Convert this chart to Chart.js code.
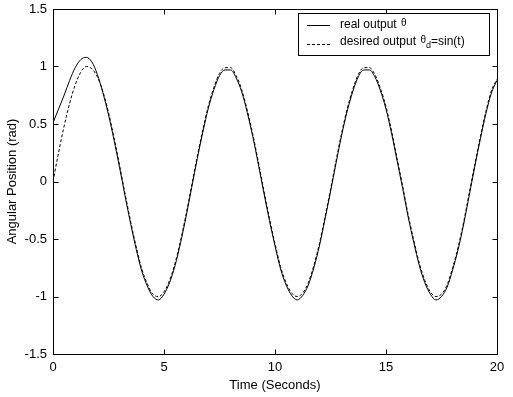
<!DOCTYPE html>
<html>
<head>
<meta charset="utf-8">
<script src="https://cdn.jsdelivr.net/npm/chart.js@4"></script>
<style>
  body { margin: 0; background: #fff; }
  canvas { display: block; }
</style>
</head>
<body>
<canvas id="chart" width="513" height="397"></canvas>
<script>
const times = [
  0, 0.25, 0.5, 0.75, 1, 1.25, 1.5, 1.75, 2, 2.25, 2.5, 2.75, 3, 3.25, 3.5, 3.75,
  4, 4.25, 4.5, 4.75, 5, 5.25, 5.5, 5.75, 6, 6.25, 6.5, 6.75, 7, 7.25, 7.5, 7.75,
  8, 8.25, 8.5, 8.75, 9, 9.25, 9.5, 9.75, 10, 10.25, 10.5, 10.75, 11, 11.25, 11.5, 11.75,
  12, 12.25, 12.5, 12.75, 13, 13.25, 13.5, 13.75, 14, 14.25, 14.5, 14.75, 15, 15.25, 15.5, 15.75,
  16, 16.25, 16.5, 16.75, 17, 17.25, 17.5, 17.75, 18, 18.25, 18.5, 18.75, 19, 19.25, 19.5, 19.75, 20
];

const realOutput = [
  0.51, 0.63, 0.75, 0.88, 0.99, 1.06, 1.08, 1.04, 0.93, 0.77, 0.58, 0.36, 0.12, -0.13, -0.37, -0.59,
  -0.78, -0.91, -1.00, -1.03, -0.98, -0.88, -0.73, -0.53, -0.30, -0.05, 0.20, 0.43, 0.64, 0.80, 0.92, 0.97,
  0.97, 0.90, 0.78, 0.60, 0.39, 0.15, -0.10, -0.34, -0.56, -0.76, -0.90, -0.99, -1.03, -0.99, -0.90, -0.75,
  -0.56, -0.33, -0.09, 0.16, 0.40, 0.61, 0.78, 0.91, 0.97, 0.97, 0.91, 0.79, 0.63, 0.42, 0.18, -0.06,
  -0.31, -0.53, -0.73, -0.88, -0.98, -1.03, -1.00, -0.92, -0.77, -0.59, -0.37, -0.12, 0.13, 0.37, 0.59, 0.77, 0.88
];

const desiredOutput = [
  0.00, 0.25, 0.48, 0.68, 0.84, 0.95, 1.00, 0.98, 0.91, 0.78, 0.60, 0.38, 0.14, -0.11, -0.35, -0.57,
  -0.76, -0.89, -0.98, -1.00, -0.96, -0.86, -0.71, -0.51, -0.28, -0.03, 0.22, 0.45, 0.66, 0.82, 0.94, 0.99,
  0.99, 0.92, 0.80, 0.62, 0.41, 0.17, -0.08, -0.32, -0.54, -0.74, -0.88, -0.97, -1.00, -0.97, -0.88, -0.73,
  -0.54, -0.31, -0.07, 0.18, 0.42, 0.63, 0.80, 0.93, 0.99, 0.99, 0.93, 0.81, 0.65, 0.44, 0.20, -0.04,
  -0.29, -0.51, -0.71, -0.86, -0.96, -1.00, -0.98, -0.90, -0.75, -0.57, -0.35, -0.10, 0.15, 0.39, 0.61, 0.79, 0.89
];

const xTicks = [0, 5, 10, 15, 20];
const yTicks = [-1.5, -1, -0.5, 0, 0.5, 1, 1.5];

const FONT = '"Liberation Sans", Arial, sans-serif';

function toPoints(values) {
  return times.map((t, i) => ({ x: t, y: values[i] }));
}

// --- Box, inward ticks and legend, MATLAB style ---
const matlabFrame = {
  id: 'matlabFrame',
  afterDatasetsDraw(chart) {
    const { ctx, chartArea: a, scales } = chart;
    const L = Math.round(a.left) + 0.5, R = Math.round(a.right) + 0.5;
    const T = Math.round(a.top) + 0.5, B = Math.round(a.bottom) + 0.5;
    ctx.save();
    ctx.strokeStyle = '#000';
    ctx.lineWidth = 1;
    ctx.setLineDash([]);
    ctx.strokeRect(L, T, R - L, B - T);

    const tl = 5;
    ctx.beginPath();
    xTicks.forEach(v => {
      const x = Math.round(scales.x.getPixelForValue(v)) + 0.5;
      ctx.moveTo(x, B); ctx.lineTo(x, B - tl);
      ctx.moveTo(x, T); ctx.lineTo(x, T + tl);
    });
    yTicks.forEach(v => {
      const y = Math.round(scales.y.getPixelForValue(v)) + 0.5;
      ctx.moveTo(L, y); ctx.lineTo(L + tl, y);
      ctx.moveTo(R, y); ctx.lineTo(R - tl, y);
    });
    ctx.stroke();

    // legend
    const bx = 298.5, by = 13.5, bw = 191, bh = 42;
    ctx.fillStyle = '#fff';
    ctx.fillRect(bx, by, bw, bh);
    ctx.strokeRect(bx, by, bw, bh);

    ctx.beginPath();
    ctx.moveTo(307, 25.5); ctx.lineTo(330, 25.5);
    ctx.stroke();
    ctx.setLineDash([3, 2]);
    ctx.beginPath();
    ctx.moveTo(307, 44.5); ctx.lineTo(330, 44.5);
    ctx.stroke();
    ctx.setLineDash([]);

    ctx.fillStyle = '#000';
    ctx.textBaseline = 'middle';
    ctx.textAlign = 'left';
    ctx.font = '12px ' + FONT;
    let tx = 340;
    ctx.fillText('real output ', tx, 25);
    tx += ctx.measureText('real output ').width;
    ctx.font = '10px ' + FONT;
    ctx.fillText('\u03b8', tx + 1, 23);

    tx = 340;
    ctx.font = '12px ' + FONT;
    ctx.fillText('desired output ', tx, 42);
    tx += ctx.measureText('desired output ').width + 1;
    ctx.font = '10px ' + FONT;
    ctx.fillText('\u03b8', tx, 40);
    tx += ctx.measureText('\u03b8').width;
    ctx.font = '9px ' + FONT;
    ctx.fillText('d', tx, 46);
    tx += ctx.measureText('d').width;
    ctx.font = '12px ' + FONT;
    ctx.fillText('=sin(t)', tx, 42);
    ctx.restore();
  }
};

const ctx = document.getElementById('chart').getContext('2d');
new Chart(ctx, {
  type: 'line',
  data: {
    datasets: [
      {
        label: 'real output',
        data: toPoints(realOutput),
        borderColor: '#000',
        borderWidth: 1,
        pointRadius: 0,
        cubicInterpolationMode: 'monotone',
        fill: false
      },
      {
        label: 'desired output',
        data: toPoints(desiredOutput),
        borderColor: '#000',
        borderWidth: 1,
        borderDash: [3, 2],
        pointRadius: 0,
        cubicInterpolationMode: 'monotone',
        fill: false
      }
    ]
  },
  options: {
    responsive: false,
    animation: false,
    devicePixelRatio: 1,
    layout: { padding: { left: 0, right: 16, top: 9, bottom: 0 } },
    plugins: {
      legend: { display: false },
      tooltip: { enabled: false }
    },
    scales: {
      x: {
        type: 'linear',
        min: 0,
        max: 20,
        afterFit(scale) {
          scale.height = 43;
          scale.paddingLeft = 0;
          scale.paddingRight = 0;
        },
        afterBuildTicks(scale) { scale.ticks = xTicks.map(v => ({ value: v })); },
        grid: { display: false, drawTicks: false },
        border: { display: false },
        ticks: { color: '#000', padding: 6, font: { family: FONT, size: 13 }, maxRotation: 0 },
        title: {
          display: true,
          text: 'Time (Seconds)',
          color: '#000',
          font: { family: FONT, size: 13 },
          padding: { top: 5, bottom: 4 }
        }
      },
      y: {
        type: 'linear',
        min: -1.5,
        max: 1.5,
        afterFit(scale) {
          scale.width = 53;
          scale.paddingTop = 0;
          scale.paddingBottom = 0;
        },
        afterBuildTicks(scale) { scale.ticks = yTicks.map(v => ({ value: v })); },
        grid: { display: false, drawTicks: false },
        border: { display: false },
        ticks: {
          color: '#000',
          padding: 6,
          font: { family: FONT, size: 13 },
          callback: v => String(v)
        },
        title: {
          display: true,
          text: 'Angular Position (rad)',
          color: '#000',
          font: { family: FONT, size: 13 },
          padding: { top: 5, bottom: 0 }
        }
      }
    }
  },
  plugins: [matlabFrame]
});
</script>
</body>
</html>
